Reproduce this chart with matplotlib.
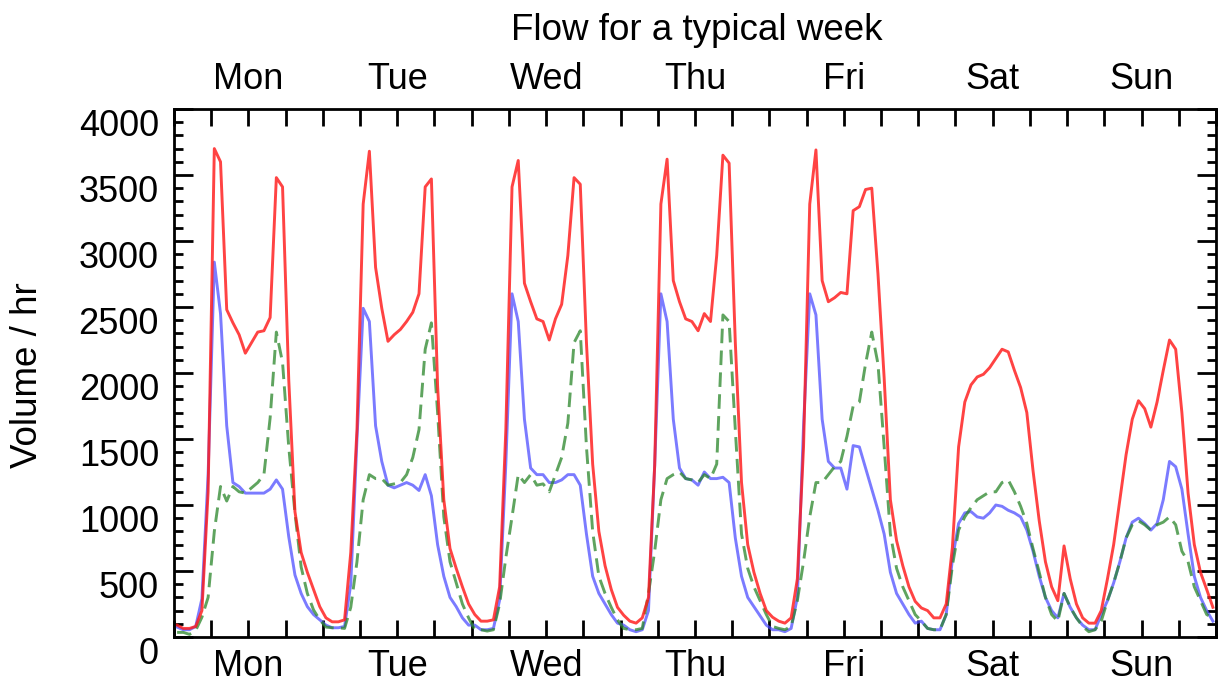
import numpy as np
import matplotlib.pyplot as plt
from matplotlib.ticker import MultipleLocator
from matplotlib.transforms import ScaledTranslation

plt.rcParams['font.family'] = ['Liberation Sans', 'DejaVu Sans']

days = ["Mon", "Tue", "Wed", "Thu", "Fri", "Sat", "Sun"]

# hourly volumes (veh/hr), 24 values per day, Mon -> Sun
total_flow = [
    90, 65, 65, 80, 200, 1100, 3700, 3600, 2480, 2380, 2290, 2150, 2230, 2310, 2320, 2420, 3480, 3410, 1950, 950, 640, 490, 360, 230,
    145, 115, 115, 130, 640, 1570, 3280, 3680, 2800, 2490, 2240, 2290, 2330, 2390, 2460, 2600, 3410, 3470, 1900, 1040, 670, 520, 380, 250,
    170, 120, 120, 130, 380, 1570, 3410, 3610, 2680, 2540, 2410, 2390, 2250, 2410, 2520, 2890, 3480, 3430, 2230, 1310, 800, 540, 360, 225,
    165, 120, 105, 145, 300, 1300, 3280, 3620, 2700, 2540, 2410, 2390, 2320, 2450, 2390, 2890, 3650, 3590, 2230, 1170, 700, 490, 330, 200,
    150, 120, 105, 145, 440, 1440, 3280, 3690, 2700, 2540, 2570, 2610, 2600, 3230, 3260, 3390, 3400, 2750, 1960, 1040, 730, 540, 380, 270,
    220, 200, 145, 145, 250, 680, 1440, 1780, 1910, 1970, 1990, 2040, 2110, 2180, 2160, 2020, 1890, 1700, 1260, 880, 570, 380, 275, 690,
    440, 250, 145, 105, 105, 200, 440, 700, 1040, 1380, 1650, 1790, 1730, 1590, 1780, 2020, 2250, 2180, 1700, 1090, 700, 490, 360, 225,
]

inbound_flow = [
    75, 55, 55, 80, 290, 1230, 2840, 2450, 1600, 1170, 1140, 1090, 1090, 1090, 1090, 1120, 1190, 1120, 760, 470, 330, 230, 170, 130,
    90, 70, 70, 80, 400, 1500, 2490, 2390, 1600, 1330, 1150, 1130, 1150, 1170, 1150, 1110, 1230, 1070, 700, 460, 300, 230, 145, 90,
    90, 55, 55, 65, 280, 1310, 2600, 2390, 1650, 1280, 1230, 1230, 1170, 1170, 1190, 1230, 1230, 1150, 780, 460, 330, 250, 170, 105,
    90, 55, 40, 55, 200, 1300, 2600, 2390, 1650, 1280, 1200, 1190, 1150, 1250, 1200, 1200, 1210, 1170, 750, 460, 300, 230, 160, 90,
    55, 55, 40, 65, 300, 1600, 2600, 2440, 1650, 1330, 1280, 1280, 1120, 1450, 1440, 1280, 1120, 960, 780, 490, 330, 250, 170, 105,
    120, 65, 55, 55, 170, 590, 860, 940, 950, 910, 900, 940, 1000, 990, 960, 940, 910, 810, 650, 460, 300, 200, 145, 330,
    225, 145, 90, 55, 55, 170, 275, 410, 570, 750, 870, 900, 860, 810, 860, 1040, 1330, 1290, 1120, 780, 460, 300, 200, 120,
]

outbound_flow = [
    35, 35, 20, 50, 150, 300, 800, 1140, 1030, 1140, 1100, 1090, 1130, 1170, 1230, 1660, 2310, 2080, 1440, 940, 530, 330, 205, 130,
    75, 70, 70, 65, 225, 570, 1040, 1230, 1200, 1200, 1150, 1160, 1170, 1230, 1360, 1570, 2180, 2380, 1700, 910, 570, 410, 250, 145,
    55, 55, 45, 55, 250, 600, 910, 1230, 1170, 1230, 1150, 1160, 1100, 1230, 1360, 1620, 2230, 2320, 1440, 800, 460, 330, 225, 130,
    65, 55, 55, 65, 330, 650, 1040, 1200, 1230, 1250, 1200, 1190, 1170, 1230, 1200, 1310, 2440, 2390, 1570, 780, 520, 380, 275, 170,
    80, 65, 55, 80, 275, 570, 910, 1170, 1170, 1230, 1290, 1330, 1520, 1750, 1780, 2070, 2310, 2070, 1440, 780, 520, 380, 275, 170,
    120, 65, 55, 55, 170, 540, 810, 910, 980, 1040, 1070, 1100, 1100, 1170, 1190, 1100, 990, 860, 670, 490, 300, 170, 120, 330,
    225, 145, 80, 40, 55, 120, 275, 410, 570, 750, 850, 880, 850, 810, 850, 870, 910, 850, 650, 570, 380, 275, 170, 145,
]

hours = np.arange(len(total_flow)) + 0.5

W, H = 1218, 689
fig = plt.figure(figsize=(W / 100, H / 100), dpi=100)
ax = fig.add_axes([174 / W, 52 / H, 1042 / W, 528 / H])

ax.plot(hours, inbound_flow, color='#4848ff', lw=2.1, alpha=0.72)
ax.plot(hours, outbound_flow, color='#2a862a', lw=2.1, alpha=0.75, ls=(0, (5, 2.5)))
ax.plot(hours, total_flow, color='#ff1a1a', lw=2.1, alpha=0.82)

ax.set_xlim(0, 168)
ax.set_ylim(0, 4000)

# x: a tick every 6 hours, day names at noon on top and bottom
ax.set_xticks(np.arange(0, 169, 6))
ax.set_xticks(np.arange(12, 168, 24), minor=True)
ax.set_xticklabels(days, minor=True)
ax.xaxis.remove_overlapping_locs = False
ax.tick_params(axis='x', which='major', direction='in', top=True, bottom=True,
               labelbottom=False, labeltop=False, length=12.5, width=2)
ax.tick_params(axis='x', which='minor', length=0, top=True, bottom=True,
               labelbottom=True, labeltop=True, pad=8.5, labelsize=26)

# y: majors every 500, minors every 100, on both sides
ax.set_yticks(np.arange(0, 4001, 500))
ax.yaxis.set_minor_locator(MultipleLocator(100))
ax.tick_params(axis='y', which='both', direction='in', left=True, right=True,
               width=2, labelsize=26, pad=10.8)
ax.tick_params(axis='y', which='major', length=13.5)
ax.tick_params(axis='y', which='minor', length=6.5)

shift = ScaledTranslation(0, -0.14, fig.dpi_scale_trans)
for lbl in ax.get_yticklabels():
    lbl.set_transform(lbl.get_transform() + shift)

for sp in ax.spines.values():
    sp.set_linewidth(2)

fig.text(697 / W, 1 - 30 / H, "Flow for a typical week", ha='center', va='center', fontsize=26.5)
fig.text(28 / W, 1 - 375 / H, "Volume / hr", ha='center', va='center', rotation=90, fontsize=26.5)

fig.savefig("out.png", dpi=100)
